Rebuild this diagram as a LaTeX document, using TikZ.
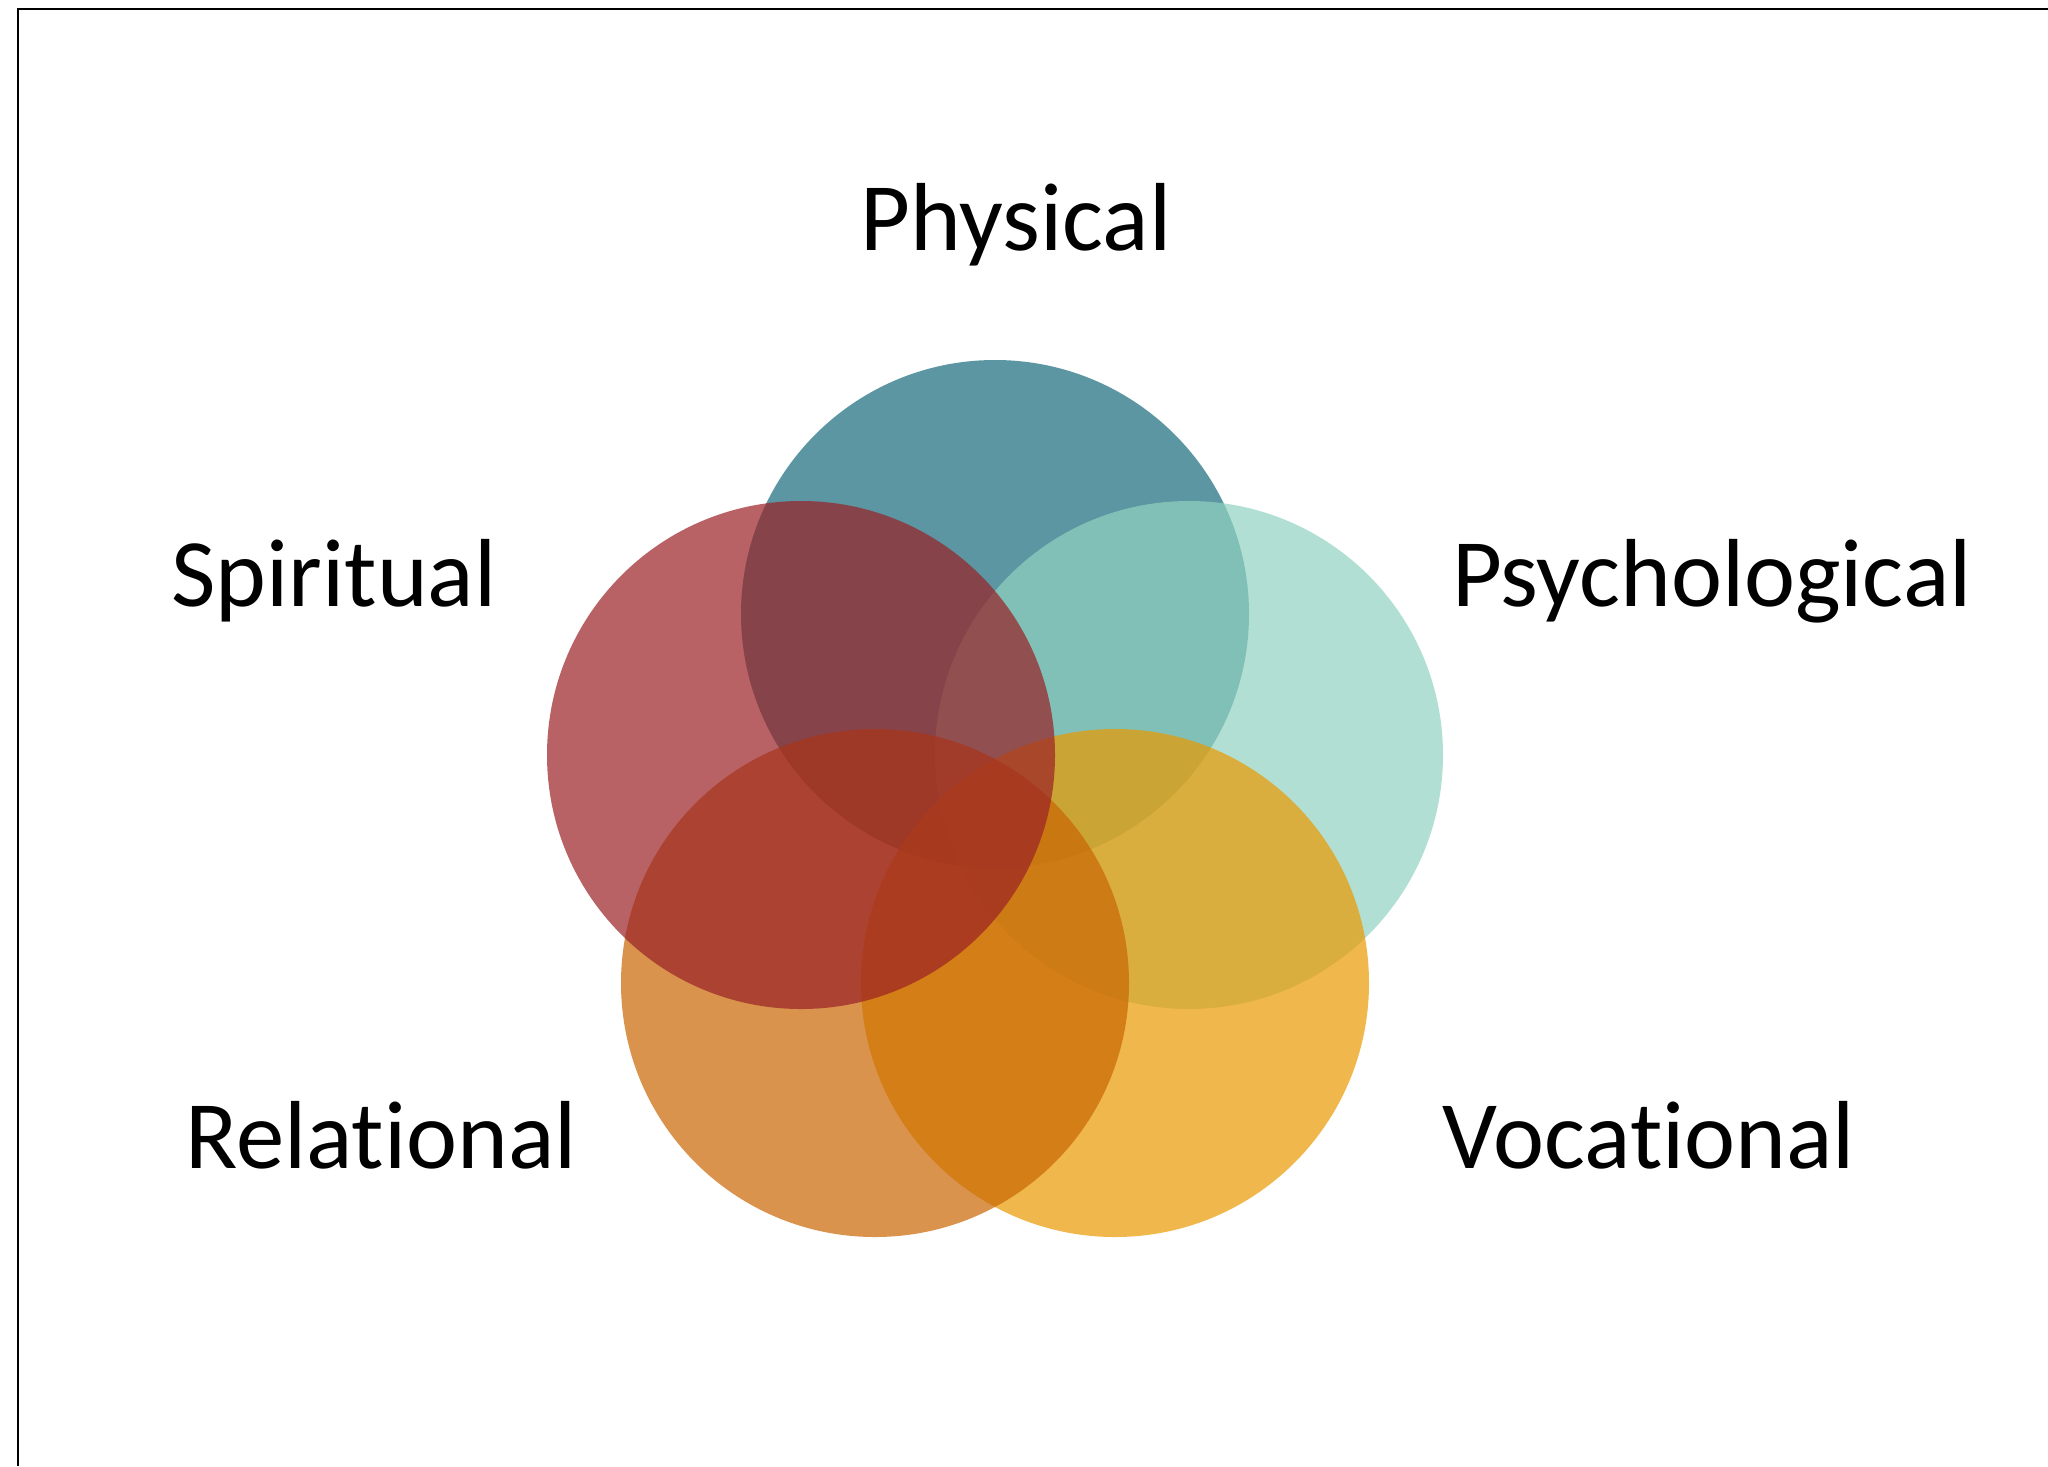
\documentclass[tikz,border=0pt]{standalone}
\usepackage{fontspec}
\setmainfont{Carlito}[Ligatures={NoCommon,NoRare}]
\definecolor{physblue}{RGB}{21,105,122}
\definecolor{spirred}{RGB}{154,32,37}
\definecolor{psychgreen}{RGB}{146,210,192}
\definecolor{relorange}{RGB}{201,101,2}
\definecolor{vocyellow}{RGB}{234,154,0}
\tikzstyle{set}=[fill opacity=.7]
\tikzstyle{label}=[anchor=base, inner sep=0pt, font=\fontsize{27.5}{33}\selectfont]
\tikzstyle{frame}=[line width=.6pt]

\begin{document}
\begin{tikzpicture}[x=.01cm,y=-.01cm]
    \useasboundingbox (0,0) rectangle (2048,1466);

    % Frame
    \draw[frame] (18,1466) -- (18,9) -- (2048,9);

    % Sets
    \fill[set,physblue] (995,614) circle (254);
    \fill[set,psychgreen] (1189,755) circle (254);
    \fill[set,vocyellow] (1115,983) circle (254);
    \fill[set,relorange] (875,983) circle (254);
    \fill[set,spirred] (801,755) circle (254);

    % Labels
    \draw (1016,250) node[label] (phys) {Physical};
    \draw (334,606) node[label] (spir) {Spiritual};
    \draw (1712,606) node[label] (psych) {Psychological};
    \draw (381,1168) node[label] (rel) {Relational};
    \draw (1649,1168) node[label] (voc) {Vocational};

\end{tikzpicture}
\end{document}
